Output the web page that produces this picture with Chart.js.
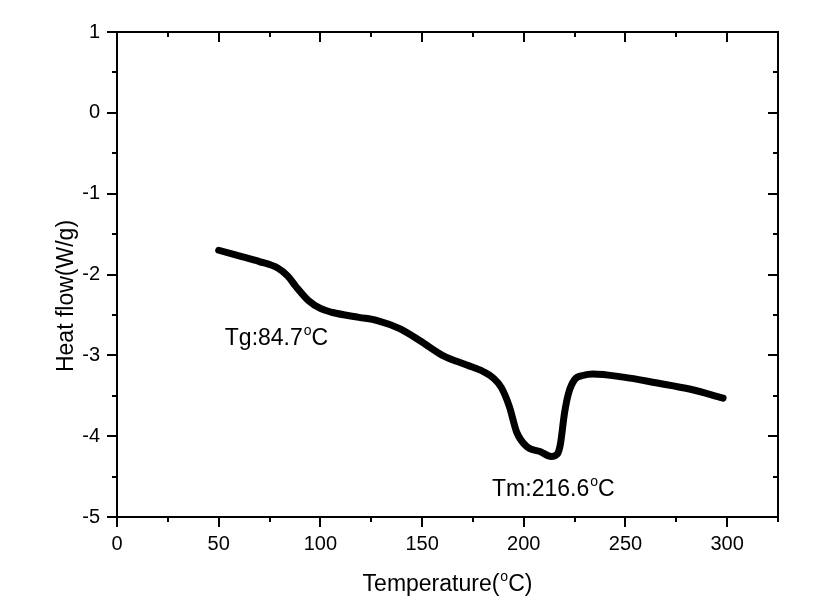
<!DOCTYPE html>
<html>
<head>
<meta charset="utf-8">
<script src="https://cdn.jsdelivr.net/npm/chart.js@4/dist/chart.umd.min.js"></script>
<style>
  body { margin: 0; background: #fff; }
</style>
</head>
<body>
<canvas id="chart1" width="814" height="616"></canvas>
<script>
// DSC curve
const temps = [50, 60, 70, 79, 84, 88, 94, 100, 106, 119, 128, 139, 149, 160, 172, 180, 185, 189, 193, 196.5, 201.5, 208, 213.5, 216.5, 218, 220, 222, 225, 229, 234, 249, 265, 282, 298]
const heatFlow = [-1.70, -1.77, -1.84, -1.92, -2.02, -2.15, -2.32, -2.42, -2.47, -2.53, -2.57, -2.67, -2.82, -3.00, -3.12, -3.20, -3.28, -3.40, -3.64, -3.95, -4.13, -4.19, -4.25, -4.22, -4.10, -3.72, -3.47, -3.30, -3.25, -3.23, -3.27, -3.34, -3.42, -3.53]

const xTicks = [0, 50, 100, 150, 200, 250, 300]
const xMinor = [25, 75, 125, 175, 225, 275, 325]
const yTicks = [-5, -4, -3, -2, -1, 0, 1]
const yMinor = [-4.5, -3.5, -2.5, -1.5, -0.5, 0.5]

// annotations: [x, y, text before deg, after]
const notes = [
    [53, -2.87, 'Tg:84.7', 'C'],
    [184.4, -4.74, 'Tm:216.6', 'C']
]

const FONT = 'Arial, "Liberation Sans", sans-serif'
const canvas = document.getElementById("chart1")
const context = canvas.getContext("2d")

// text with a raised small "o" as degree sign
function degText(ctx, x, y, before, after, size) {
    ctx.font = `${size}px ${FONT}`
    ctx.fillText(before, x, y)
    let w = ctx.measureText(before).width
    let small = Math.round(size * 0.6)
    ctx.font = `${small}px ${FONT}`
    ctx.fillText('o', x + w + 1, y - size * 0.42)
    w += ctx.measureText('o').width + 1
    ctx.font = `${size}px ${FONT}`
    ctx.fillText(after, x + w, y)
    w += ctx.measureText(after).width
    return w
}
function degWidth(ctx, before, after, size) {
    ctx.font = `${size}px ${FONT}`
    let w = ctx.measureText(before).width + ctx.measureText(after).width
    ctx.font = `${Math.round(size * 0.6)}px ${FONT}`
    return w + ctx.measureText('o').width + 1
}

const framePlugin = {
    id: 'frame',
    afterDraw(chart) {
        const ctx = chart.ctx
        const a = chart.chartArea
        const xs = chart.scales.x
        const ys = chart.scales.y
        ctx.save()
        ctx.strokeStyle = '#000'
        ctx.fillStyle = '#000'
        ctx.lineWidth = 2
        ctx.strokeRect(a.left, a.top, a.right - a.left, a.bottom - a.top)

        ctx.beginPath()
        const xt = (v, len) => {
            let p = Math.round(xs.getPixelForValue(v))
            ctx.moveTo(p, a.bottom); ctx.lineTo(p, a.bottom + len)
            ctx.moveTo(p, a.top); ctx.lineTo(p, a.top + len)
        }
        const yt = (v, len) => {
            let p = Math.round(ys.getPixelForValue(v))
            ctx.moveTo(a.left, p); ctx.lineTo(a.left - len, p)
            ctx.moveTo(a.right, p); ctx.lineTo(a.right - len, p)
        }
        xTicks.forEach(v => xt(v, 10))
        xMinor.forEach(v => xt(v, 5))
        yTicks.forEach(v => yt(v, 10))
        yMinor.forEach(v => yt(v, 5))
        ctx.stroke()

        // annotations
        ctx.textAlign = 'left'
        ctx.textBaseline = 'alphabetic'
        notes.forEach(n => {
            degText(ctx, xs.getPixelForValue(n[0]), ys.getPixelForValue(n[1]), n[2], n[3], 23)
        })

        // axis titles
        let tw = degWidth(ctx, 'Temperature(', 'C)', 23)
        degText(ctx, (a.left + a.right) / 2 - tw / 2, 591, 'Temperature(', 'C)', 23)

        ctx.font = `23px ${FONT}`
        ctx.translate(73, 296)
        ctx.rotate(-Math.PI / 2)
        ctx.textAlign = 'center'
        ctx.fillText('Heat flow(W/g)', 0, 0)
        ctx.restore()
    }
}

const config = {
    type: 'line',
    data: {
        datasets: [{
            data: temps.map((t, i) => ({ x: t, y: heatFlow[i] })),
            borderColor: '#000',
            borderWidth: 7,
            borderCapStyle: 'round',
            borderJoinStyle: 'round',
            pointRadius: 0,
            cubicInterpolationMode: 'monotone',
            fill: false
        }]
    },
    options: {
        responsive: false,
        animation: false,
        layout: { padding: { left: 0, top: 32, right: 36, bottom: 0 } },
        plugins: { legend: { display: false }, tooltip: { enabled: false } },
        scales: {
            x: {
                type: 'linear',
                min: 0,
                max: 325,
                border: { display: false },
                grid: { display: false, drawTicks: false },
                afterBuildTicks: s => { s.ticks = xTicks.map(v => ({ value: v })) },
                afterFit: s => { s.height = 99 },
                ticks: { color: '#000', padding: 15, maxRotation: 0, font: { family: FONT, size: 20 } }
            },
            y: {
                type: 'linear',
                min: -5,
                max: 1,
                border: { display: false },
                grid: { display: false, drawTicks: false },
                afterBuildTicks: s => { s.ticks = yTicks.map(v => ({ value: v })) },
                afterFit: s => { s.width = 117 },
                ticks: { color: '#000', padding: 17, font: { family: FONT, size: 20 } }
            }
        }
    },
    plugins: [framePlugin]
}
const myChart = new Chart(context, config)
</script>
</body>
</html>
